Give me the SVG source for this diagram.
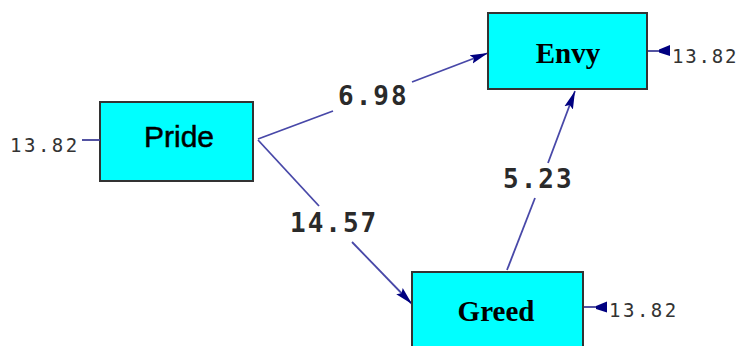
<svg xmlns="http://www.w3.org/2000/svg" width="739" height="346" viewBox="0 0 739 346">
<style>
.box{fill:#00ffff;stroke:#333333;stroke-width:2}
.lbl{font-family:"Liberation Serif",serif;font-weight:bold;font-size:29px;fill:#000}
.lbls{font-family:"Liberation Sans",Arial,sans-serif;font-size:30px;fill:#000;stroke:#000;stroke-width:0.5}
.edge{stroke:#4848a8;stroke-width:1.8;fill:none}
.coef{font-family:"DejaVu Sans Mono",monospace;font-weight:bold;font-size:26px;letter-spacing:2px;fill:#2a2a2a}
.err{font-family:"DejaVu Sans Mono",monospace;font-size:19px;letter-spacing:2.5px;fill:#333}
.errline{stroke:#404098;stroke-width:1.8}
.flag{fill:#000080}
</style>
<defs>
<marker id="ah" viewBox="0 0 18 11" refX="18" refY="5.5" markerWidth="18" markerHeight="11" markerUnits="userSpaceOnUse" orient="auto">
<path d="M0,1 L18,5.5 L0,10 L3,5.5 Z" fill="#000080"/>
</marker>
</defs>
<rect width="739" height="346" fill="#ffffff"/>
<g id="connectors">
<line class="edge" x1="258" y1="139" x2="333" y2="111"/>
<line class="edge" x1="412" y1="82" x2="488" y2="53" marker-end="url(#ah)"/>
<line class="edge" x1="258" y1="140" x2="319" y2="206"/>
<line class="edge" x1="352" y1="242" x2="412" y2="304" marker-end="url(#ah)"/>
<line class="edge" x1="507" y1="270" x2="535" y2="198"/>
<line class="edge" x1="548" y1="163" x2="575" y2="91" marker-end="url(#ah)"/>
<text class="coef" x="338" y="105">6.98</text>
<text class="coef" x="290" y="232">14.57</text>
<text class="coef" x="503" y="188">5.23</text>
</g>
<g id="pride">
<rect class="box" x="100" y="102" width="153" height="79"/>
<text class="lbls" x="179" y="147" text-anchor="middle">Pride</text>
<line class="errline" x1="82" y1="140" x2="100" y2="140"/>
<text class="err" x="10" y="152">13.82</text>
</g>
<g id="envy">
<rect class="box" x="488" y="13" width="159" height="76"/>
<text class="lbl" x="568" y="63" text-anchor="middle">Envy</text>
<line class="errline" x1="648" y1="51" x2="668" y2="51"/>
<polygon class="flag" points="670,45 670,56 659,52.5 659,49.5"/>
<text class="err" x="672" y="63" style="letter-spacing:1.8px">13.82</text>
</g>
<g id="greed">
<rect class="box" x="412" y="272" width="171" height="80"/>
<text class="lbl" x="496" y="321" text-anchor="middle">Greed</text>
<line class="errline" x1="584" y1="307" x2="605" y2="307"/>
<polygon class="flag" points="607,301.5 607,312.5 596,309 596,306"/>
<text class="err" x="609" y="317">13.82</text>
</g>
</svg>
